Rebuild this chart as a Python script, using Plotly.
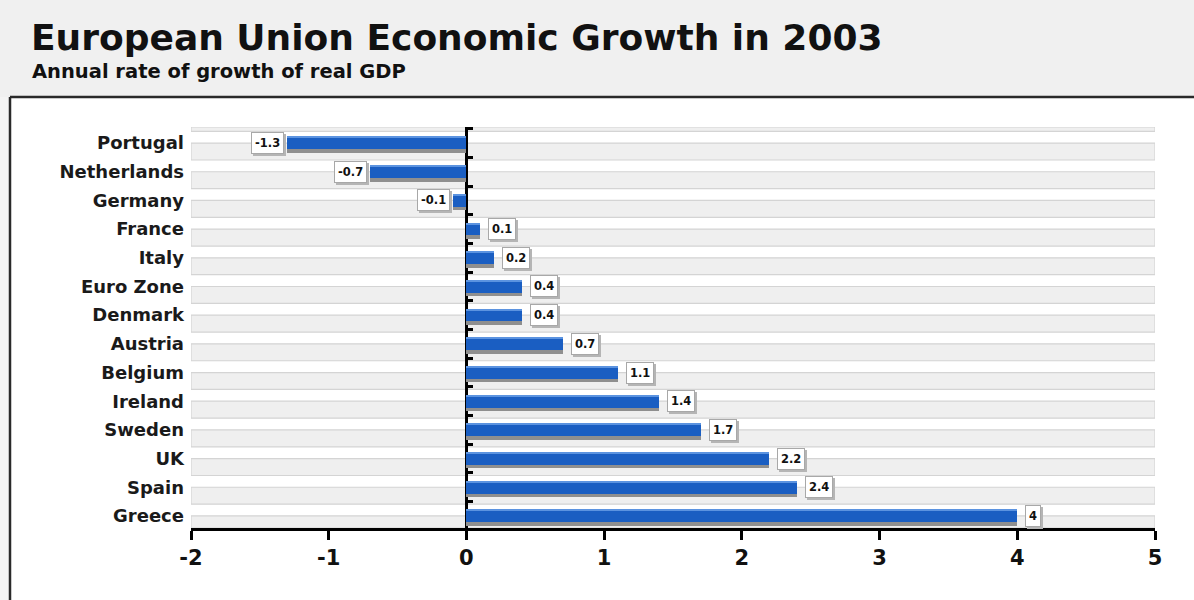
import plotly.graph_objects as go

countries = ["Portugal", "Netherlands", "Germany", "France", "Italy", "Euro Zone", "Denmark",
             "Austria", "Belgium", "Ireland", "Sweden", "UK", "Spain", "Greece"]
growth = [-1.3, -0.7, -0.1, 0.1, 0.2, 0.4, 0.4, 0.7, 1.1, 1.4, 1.7, 2.2, 2.4, 4]
x_ticks = [-2, -1, 0, 1, 2, 3, 4, 5]

W, H = 1194, 600
L, R, T, B = 191, 1155, 127, 528
FONT = "DejaVu Sans, Verdana, sans-serif"
idx = list(range(len(countries)))
Y_RANGE = [13.42, -0.56]


def px(xp):
    return (xp - L) / (R - L)


def py(yp):
    return (B - yp) / (B - T)


fig = go.Figure()

# bar shadows
fig.add_trace(go.Bar(y=idx, x=growth, orientation="h", width=0.45, offset=-0.11,
                     marker=dict(color="#8f8f8f", line=dict(width=0)), hoverinfo="skip"))
# main bars
fig.add_trace(go.Bar(y=idx, x=growth, orientation="h", width=0.45, offset=-0.23,
                     marker=dict(color="#1a5ec2", line=dict(width=0)), hoverinfo="skip"))
# top highlight
fig.add_trace(go.Bar(y=idx, x=growth, orientation="h", width=0.07, offset=-0.23,
                     marker=dict(color="#5b93e0", line=dict(width=0)), hoverinfo="skip"))
# dummy trace for tick axis on zero line
fig.add_trace(go.Scatter(x=[0], y=[0], yaxis="y2", mode="markers",
                         marker=dict(opacity=0), hoverinfo="skip", showlegend=False))

shapes = []
# header background
shapes.append(dict(type="rect", xref="paper", yref="paper", x0=px(0), x1=px(W), y0=py(97), y1=py(0),
                   fillcolor="#f0f0f0", line=dict(width=0), layer="below"))
# left strip under header
shapes.append(dict(type="rect", xref="paper", yref="paper", x0=px(0), x1=px(10), y0=py(H), y1=py(97),
                   fillcolor="#f4f4f4", line=dict(width=0), layer="below"))
# header border
shapes.append(dict(type="line", xref="paper", yref="paper", x0=px(10), x1=px(W), y0=py(97), y1=py(97),
                   line=dict(color="#2a2a2a", width=2.5)))
shapes.append(dict(type="line", xref="paper", yref="paper", x0=px(10), x1=px(10), y0=py(97), y1=py(H),
                   line=dict(color="#2a2a2a", width=2.5)))
# row bands
for i in range(-1, len(countries)):
    y0 = max(i, Y_RANGE[1])
    y1 = min(i + 0.59, Y_RANGE[0])
    if y1 <= y0:
        continue
    shapes.append(dict(type="rect", xref="x", yref="y", x0=x_ticks[0], x1=x_ticks[-1], y0=y0, y1=y1,
                       fillcolor="#efefef", line=dict(color="#d4d4d4", width=1.2), layer="below"))

annotations = []
annotations.append(dict(text="<b>European Union Economic Growth in 2003</b>", xref="paper", yref="paper",
                        x=px(29), y=py(15), xanchor="left", yanchor="top", showarrow=False,
                        font=dict(family=FONT, size=36, color="#111111")))
annotations.append(dict(text="<b>Annual rate of growth of real GDP</b>", xref="paper", yref="paper",
                        x=px(30), y=py(58), xanchor="left", yanchor="top", showarrow=False,
                        font=dict(family=FONT, size=19.5, color="#111111")))

for i, v in enumerate(growth):
    txt = "<b>%g</b>" % v
    anchor = "left" if v >= 0 else "right"
    shift = 8 if v >= 0 else -3
    # label shadow
    annotations.append(dict(text=txt, x=v, y=i, xref="x", yref="y", xanchor=anchor, yanchor="middle",
                            xshift=shift + 2, yshift=-2, showarrow=False, bgcolor="#b5b5b5",
                            bordercolor="#b5b5b5", borderwidth=1, borderpad=3,
                            font=dict(family=FONT, size=11.5, color="#b5b5b5")))
    annotations.append(dict(text=txt, x=v, y=i, xref="x", yref="y", xanchor=anchor, yanchor="middle",
                            xshift=shift, yshift=0, showarrow=False, bgcolor="#ffffff",
                            bordercolor="#a8a8a8", borderwidth=1, borderpad=3,
                            font=dict(family=FONT, size=11.5, color="#111111")))

fig.update_layout(
    width=W, height=H,
    margin=dict(l=L, r=W - R, t=T, b=H - B, pad=0),
    paper_bgcolor="#ffffff", plot_bgcolor="#ffffff",
    barmode="overlay", showlegend=False, bargap=0,
    shapes=shapes, annotations=annotations,
    xaxis=dict(range=[x_ticks[0], x_ticks[-1]], tickvals=x_ticks, ticktext=[str(t) for t in x_ticks],
               showgrid=False, zeroline=True, zerolinecolor="#000000", zerolinewidth=3,
               showline=True, linecolor="#000000", linewidth=3, ticks="outside", ticklen=9,
               tickwidth=3, tickcolor="#000000",
               tickfont=dict(family=FONT, size=21, color="#111111", weight="bold")),
    yaxis=dict(range=Y_RANGE, tickvals=idx, ticktext=countries, showgrid=False, zeroline=False,
               showline=False, ticks="", ticklabelstandoff=6,
               tickfont=dict(family=FONT, size=18, color="#1a1a1a", weight="bold")),
    yaxis2=dict(range=Y_RANGE, overlaying="y", anchor="free", position=2 / 7, side="right",
                tickvals=[i - 0.5 for i in range(len(countries) + 1)], ticks="outside",
                ticklen=6, tickwidth=2.5, tickcolor="#000000", showticklabels=False,
                showgrid=False, zeroline=False, showline=False),
)

fig.write_html("out.html")
